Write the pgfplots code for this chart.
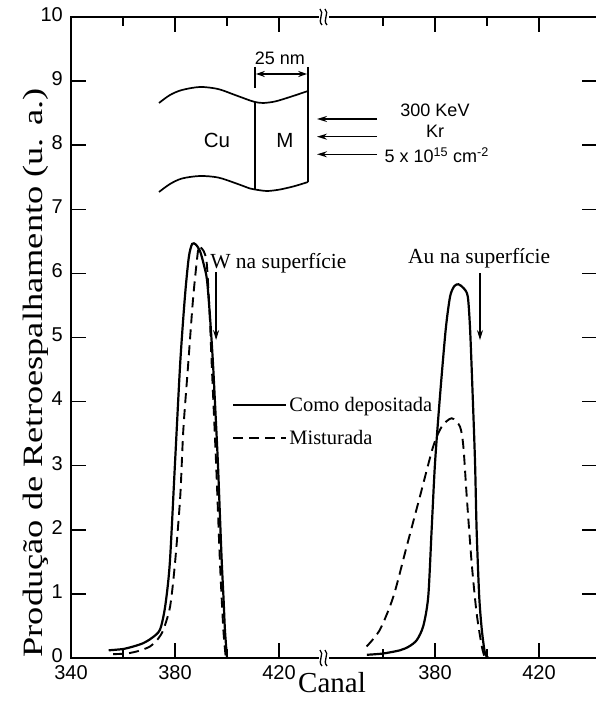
\documentclass[border=0pt]{standalone}
\usepackage{fontspec}
\setmainfont{Liberation Serif}
\newfontfamily\hv{Liberation Sans}
\usepackage{graphicx}
\usepackage{pgfplots}
\pgfplotsset{compat=1.18}
\usetikzlibrary{arrows.meta}

\begin{document}
\begin{tikzpicture}
\begin{axis}[
  at={(71pt,46pt)}, anchor=south west,
  width=526pt, height=641pt, scale only axis,
  xmin=340, xmax=542.3, ymin=0, ymax=10,
  axis line style={line width=1.5pt},
  xtick={340,380,420,480,520},
  xticklabels={340,380,420,380,420},
  minor xtick={360,400,460,500},
  ytick={0,1,...,10},
  tick style={line width=1.5pt, black},
  major tick length=15pt, minor tick length=9pt,
  tick align=inside, tick pos=both,
  ticklabel style={font=\hv\fontsize{20}{20}\selectfont},
  /pgf/number format/assume math mode=true,
  xticklabel style={anchor=north, inner sep=0pt, yshift=-7pt},
  yticklabel style={anchor=east, inner sep=0pt, xshift=-8pt, yshift=2.5pt},
  legend style={draw=none, fill=none, at={(axis cs:401.9,3.69)}, anchor=west,
    inner sep=0pt, row sep=13pt, nodes={inner sep=2pt},
    font=\fontsize{20.5}{20.5}\selectfont},
  legend cell align=left,
  legend image code/.code={\draw[#1] (0pt,0pt) -- (53pt,0pt);},
]
% W peak, as deposited
\addplot[black, line width=2.2pt, smooth, tension=0.45] coordinates {
 (354.5,0.12) (360,0.14) (364,0.18) (367.7,0.23) (371,0.31) (374.2,0.44)
 (376.2,0.8) (378,1.48) (380,3.04) (382,4.6) (383.8,5.63) (385.3,6.25)
 (386.6,6.46) (388,6.45) (389.6,6.35) (391,6.15) (392.3,5.9) (393.5,5.3)
 (394.6,4.6) (395.6,3.8) (396.5,3.04) (397.3,2.2) (398,1.48) (398.7,0.9)
 (399.2,0.44) (400,0)};
\addlegendentry{Como depositada}
% W peak, mixed
\addplot[black, line width=1.9pt, dash pattern=on 10pt off 6pt, smooth, tension=0.45] coordinates {
 (356.2,0.06) (361.4,0.07) (366,0.11) (370.4,0.18) (373.5,0.3) (375.5,0.44)
 (378.1,0.8) (380,1.48) (382,2.51) (383.2,3.56) (385.1,4.6) (387,5.63)
 (388.9,6.37) (389.6,6.41) (391,6.35) (392.2,6.16) (393.3,5.4) (394.1,4.6)
 (395.8,3.04) (397.3,1.48) (398.6,0.44) (399.5,0.02)};
\addlegendentry{Misturada}
% Au peak, as deposited
\addplot[black, line width=2.2pt, smooth, tension=0.45, forget plot] coordinates {
 (453.8,0.05) (460,0.07) (466.5,0.12) (470,0.18) (473,0.28) (475.5,0.5)
 (477.4,0.96) (478.7,2.0) (480,3.04) (481.9,4.08) (484.1,5.12) (485.8,5.64)
 (487.4,5.8) (489,5.83) (491,5.77) (492.6,5.64) (493.5,5.12) (494.5,4.08)
 (495.4,3.04) (496,2.0) (497,0.96) (498,0.44) (499.2,0.08) (500.5,0)};
% Au peak, mixed
\addplot[black, line width=1.9pt, dash pattern=on 10pt off 6pt, smooth, tension=0.45, forget plot] coordinates {
 (453.7,0.18) (458.8,0.44) (464,0.96) (469.1,1.74) (474.2,2.52) (479.3,3.3)
 (482.6,3.61) (486.4,3.74) (489.6,3.61) (490.9,3.3) (492.2,2.52)
 (494.1,1.48) (496,0.7) (498,0.18) (499.2,0)};

\node[anchor=base west, inner sep=0pt, font=\fontsize{21.5}{21.5}\selectfont]
  at (axis cs:393.5,6.08) {W na superfície};
\draw[line width=1.5pt, -{Stealth[length=10pt,width=6pt]}]
  (axis cs:395.8,6.02) -- (axis cs:395.8,4.96);
\node[anchor=base west, inner sep=0pt, font=\fontsize{21.5}{21.5}\selectfont]
  at (axis cs:469.6,6.16) {Au na superfície};
\draw[line width=1.5pt, -{Stealth[length=10pt,width=6pt]}]
  (axis cs:497.3,6.0) -- (axis cs:497.3,4.96);
\end{axis}

% sample sketch, axis breaks and outer labels (units of 1pt, y measured from the top)
\begin{scope}[shift={(0pt,704pt)}, x=1pt, y=-1pt]
  % axis breaks
  \foreach \yy in {17,658} {
    \fill[white] (319,\yy-9) rectangle (329,\yy+9);
    \draw[line width=1.3pt] (320,\yy-8) .. controls (325,\yy-4) and (317,\yy+3) .. (322,\yy+8);
    \draw[line width=1.3pt] (325,\yy-8) .. controls (330,\yy-4) and (322,\yy+3) .. (327,\yy+8);
  }
  % Cu / M layers
  \draw[line width=1.7pt] plot[smooth] coordinates {(159,103) (170,95) (182,90) (200,87) (218,89)
    (235,95) (250,100.5) (255,102) (263,103) (275,101.5) (290,97) (308,91)};
  \draw[line width=1.7pt] plot[smooth] coordinates {(159,192) (170,184) (182,178.5) (200,176)
    (218,177.5) (235,183) (250,188.5) (255,189.5) (267,191) (280,189.5) (295,186) (308,182)};
  \draw[line width=1.7pt] (255,102) -- (255,189.5);
  \draw[line width=1.7pt] (308,67) -- (308,182);
  \draw[line width=1.5pt] (255,67) -- (255,88);
  \draw[line width=1.5pt, {Stealth[length=9pt,width=6pt]}-{Stealth[length=9pt,width=6pt]}]
    (255.8,74) -- (307.2,74);
  \node[font=\hv\fontsize{18}{18}\selectfont, anchor=base] at (280,65) {25 nm};
  \node[font=\hv\fontsize{20.5}{20.5}\selectfont] at (217,140) {Cu};
  \node[font=\hv\fontsize{20.5}{20.5}\selectfont] at (285,140) {M};
  % ion beam
  \foreach \yy in {119,136.7,154.3}
    \draw[line width=1.5pt, -{Stealth[length=10pt,width=6pt]}] (377,\yy) -- (317,\yy);
  \node[font=\hv\fontsize{18}{18}\selectfont] at (435,110) {300 KeV};
  \node[font=\hv\fontsize{18}{18}\selectfont] at (435,131.7) {Kr};
  \node[font=\hv\fontsize{18}{18}\selectfont] at (436.7,155) {5 x 10\textsuperscript{15} cm\textsuperscript{-2}};
  % axis titles
  \node[anchor=base, inner sep=0pt, font=\fontsize{29}{29}\selectfont] at (332,693) {Canal};
  \node[anchor=base, inner sep=0pt, rotate=90] at (42,373)
    {\scalebox{1.3}[1]{\fontsize{28}{28}\selectfont Produção de Retroespalhamento (u. a.)}};
\end{scope}
\pgfresetboundingbox
\path (0pt,0pt) rectangle (596pt,704pt);
\end{tikzpicture}
\end{document}
